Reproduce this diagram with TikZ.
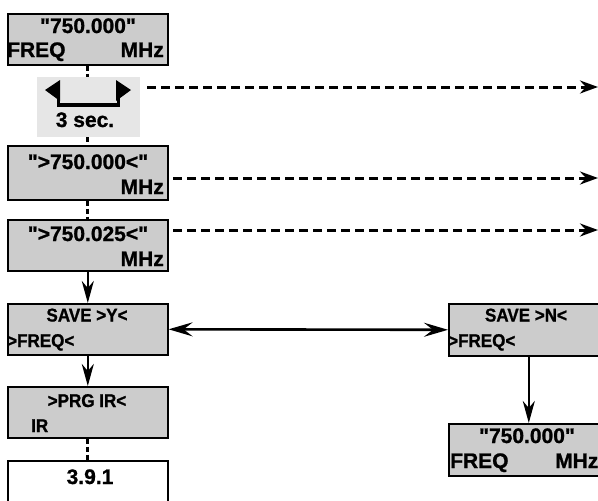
\documentclass[tikz,border=0pt]{standalone}
\usepackage{fontspec}
\newfontfamily\hfont{Liberation Sans}[UprightFont=* Bold, FakeBold=1]
\newfontfamily\cfont{Liberation Sans}[UprightFont=* Bold, FakeBold=1, FakeStretch=0.92]
\usetikzlibrary{arrows.meta,calc}
\definecolor{boxgray}{HTML}{CCCCCC}
\definecolor{panelgray}{HTML}{E6E6E6}
\begin{document}
\begin{tikzpicture}[x=1pt,y=-1pt,
  lcd/.style={draw=black, line width=1.6pt, fill=boxgray, minimum width=160pt, minimum height=51pt, inner sep=0pt, anchor=north west},
  plainbox/.style={lcd, fill=white},
  txt/.style={font=\fontsize{18.5}{18.5}\selectfont\cfont, inner sep=0pt},
  wtxt/.style={font=\fontsize{21}{21}\selectfont\hfont, inner sep=0pt},
  dashln/.style={line width=3pt, dash pattern=on 9pt off 5pt},
  vdash/.style={line width=3pt, dash pattern=on 5pt off 3pt},
  dtip/.style={-{Stealth[length=18pt,width=13pt,inset=6pt]}},
  vtip/.style={line width=2.6pt, -{Stealth[length=22pt,width=12pt,inset=7pt]}},
  htip/.style={line width=2.6pt, {Stealth[length=24pt,width=14pt,inset=9pt]}-{Stealth[length=24pt,width=14pt,inset=9pt]}}
]
\useasboundingbox (0,0) rectangle (598,501);
\clip (0,0) rectangle (598,501);

% left column boxes
\node[lcd] (b1) at (7,13) {};
\node[wtxt, anchor=base] (b1a) at (88,33) {"750.000"};
\node[wtxt, anchor=base west] (b1b) at (7,57) {FREQ};
\node[wtxt, anchor=base east] (b1c) at (164,57) {MHz};

\node[fill=panelgray, minimum width=103pt, minimum height=60pt, inner sep=0pt, anchor=north west] (pan) at (37,77) {};
\node[wtxt, anchor=base] (pant) at (85,127) {3 sec.};
\fill (45,90) -- (60,80) -- (60,101) -- cycle;
\fill (131,90) -- (116,80) -- (116,101) -- cycle;
\draw[line width=3.5pt] (58.5,96) -- (58.5,105) -- (118.5,105) -- (118.5,96);

\node[lcd, minimum height=54pt] (b2) at (7,145) {};
\node[wtxt, anchor=base] (b2a) at (88,169) {">750.000<"};
\node[wtxt, anchor=base east] (b2b) at (164,194) {MHz};

\node[lcd] (b3) at (7,219) {};
\node[wtxt, anchor=base] (b3a) at (88,241) {">750.025<"};
\node[wtxt, anchor=base east] (b3b) at (164,266) {MHz};

\node[lcd] (b4) at (7,303) {};
\node[txt, anchor=base] (b4a) at (87,321.5) {SAVE >Y<};
\node[txt, anchor=base west] (b4b) at (7,347) {>FREQ<};

\node[lcd] (b5) at (7,386) {};
\node[txt, anchor=base] (b5a) at (87,407) {>PRG IR<};
\node[txt, anchor=base west] (b5b) at (31,432) {IR};

\node[plainbox, minimum height=60pt] (b6) at (7,460) {};
\node[wtxt, anchor=base] (b6a) at (90,484) {3.9.1};

% right column boxes
\node[lcd, minimum height=52pt] (b7) at (448,303) {};
\node[txt, anchor=base] (b7a) at (526,321.5) {SAVE >N<};
\node[txt, anchor=base west] (b7b) at (448,347) {>FREQ<};

\node[lcd, minimum height=52pt] (b8) at (448,423) {};
\node[wtxt, anchor=base] (b8a) at (527,443) {"750.000"};
\node[wtxt, anchor=base west] (b8b) at (450,468) {FREQ};
\node[wtxt, anchor=base west] (b8c) at (555,468) {MHz};

% vertical connectors
\draw[vdash] (b1.south) -- (b1.south |- pan.north);
\draw[vdash] (b2.north |- pan.south) -- (b2.north);
\draw[vdash] (b2.south) -- (b3.north);
\draw[vtip] (b3.south) -- (b4.north);
\draw[vtip] (b4.south) -- (b5.north);
\draw[vdash] (b5.south) -- (b6.north);
\draw[vtip] (b7.south) -- (b8.north);

% horizontal double arrow
\draw[htip] (b4.east) -- (b7.west);

% dashed outgoing arrows
\coordinate (d1s) at (147,87);
\coordinate (d1e) at (598,87);
\coordinate (d2s) at (173,178);
\coordinate (d2e) at (598,178);
\coordinate (d3s) at (173,230);
\coordinate (d3e) at (598,230);
\draw[dashln, dtip] (d1s) -- (d1e);
\draw[dashln, dtip] (d2s) -- (d2e);
\draw[dashln, dtip] (d3s) -- (d3e);
\end{tikzpicture}
\end{document}
